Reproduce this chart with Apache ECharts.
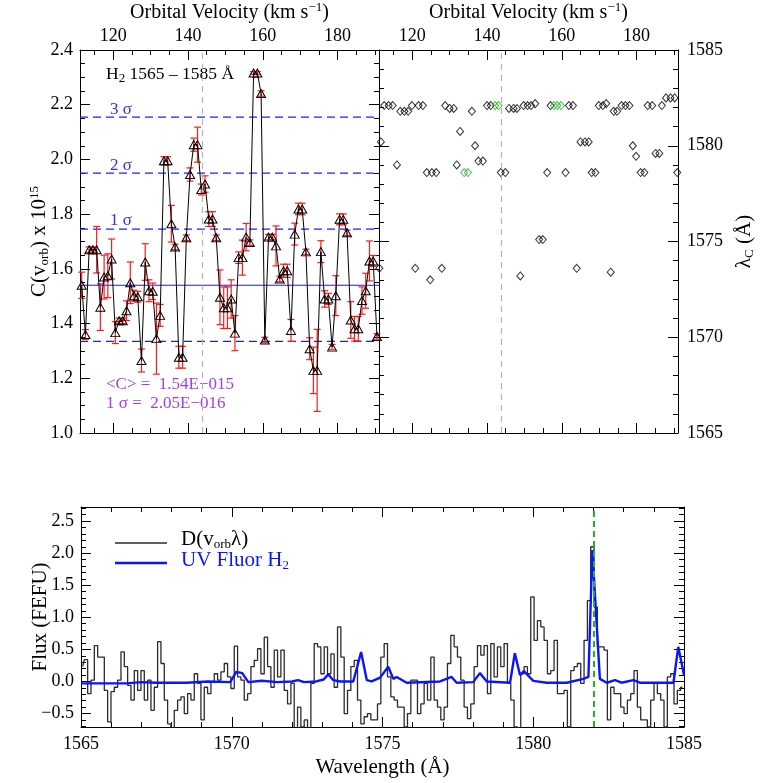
<!DOCTYPE html>
<html>
<head>
<meta charset="utf-8">
<script src="https://cdn.jsdelivr.net/npm/echarts@6/dist/echarts.min.js"></script>
<style>
  html, body { margin: 0; padding: 0; background: #fff; }
  #chart { width: 770px; height: 783px; }
</style>
</head>
<body>
<div id="chart"></div>
<script>
// ---- data ----
// cross-correlation amplitude C(v_orb) (x 1e15), one point per 1 km/s
const velStart = 111.55;
const velStep = 1.0;
const corrValues = [
  1.54, 1.36, 1.67, 1.67, 1.67, 1.46, 1.57, 1.575, 1.636, 1.367,
  1.41, 1.41, 1.447, 1.549, 1.502, 1.498, 1.265, 1.625, 1.52, 1.518,
  1.345, 1.43, 1.995, 1.995, 1.765, 1.68, 1.277, 1.277, 1.714, 1.945,
  2.054, 2.054, 1.89, 1.91, 1.782, 1.782, 1.714, 1.496, 1.458, 1.458,
  1.49, 1.365, 1.641, 1.641, 1.716, 1.696, 2.316, 2.316, 2.241, 1.34,
  1.716, 1.716, 1.684, 1.563, 1.593, 1.593, 1.375, 1.727, 1.819, 1.819,
  1.662, 1.308, 1.229, 1.229, 1.663, 1.49, 1.49, 1.314, 1.502, 1.781,
  1.781, 1.732, 1.413, 1.381, 1.381, 1.484, 1.52, 1.629, 1.629, 1.353
];
const corrErrors = [
  0.048, 0.018, 0.01, 0.01, 0.085, 0.085, 0.08, 0.08, 0.073, 0.04,
  0.01, 0.01, 0.036, 0.076, 0.02, 0.02, 0.042, 0.067, 0.04, 0.03,
  0.13, 0.04, 0.015, 0.015, 0.067, 0.01, 0.04, 0.04, 0.01, 0.024,
  0.024, 0.064, 0.02, 0.03, 0.027, 0.027, 0.01, 0.1, 0.076, 0.076,
  0.07, 0.064, 0.021, 0.064, 0.05, 0.01, 0.005, 0.005, 0.01, 0.01,
  0.01, 0.01, 0.073, 0.01, 0.024, 0.024, 0.04, 0.04, 0.021, 0.021,
  0.01, 0.04, 0.085, 0.15, 0.04, 0.03, 0.02, 0.01, 0.073, 0.02,
  0.02, 0.01, 0.067, 0.045, 0.045, 0.05, 0.064, 0.073, 0.02, 0.01
];
const meanC = 1.54;
const sigmaC = 0.205;
const vMarker = 143.9;

// peak wavelength lambda_C per velocity [v, lambda]
const lambdaBlack = [
  [111.2,1573.6],[111.6,1580.2],[112.5,1582.1],[113.7,1582.1],[114.75,1582.1],[115.9,1579.0],
  [116.8,1581.8],[117.9,1581.8],[118.9,1581.8],[119.9,1582.1],[120.8,1573.6],[121.7,1582.1],
  [122.85,1582.1],[123.9,1578.6],[124.8,1573.0],[125.25,1578.6],[126.4,1578.6],[127.9,1573.6],
  [128.8,1582.1],[130.0,1581.95],[131.1,1581.95],[131.9,1579.0],[132.8,1580.75],[135.95,1581.8],
  [136.8,1580.0],[137.7,1579.2],[138.9,1579.2],[140.0,1582.1],[141.0,1582.1],[143.7,1578.6],
  [144.9,1578.6],[145.9,1581.95],[147.1,1581.95],[148.0,1581.95],[148.9,1573.2],[149.8,1582.1],
  [150.85,1582.1],[151.8,1582.1],[152.9,1582.2],[153.95,1575.1],[154.9,1575.1],[156.1,1578.6],
  [157.0,1582.1],[161.0,1578.6],[161.9,1582.1],[163.0,1582.1],[164.0,1573.6],[165.0,1580.2],
  [166.2,1580.2],[167.2,1580.2],[168.0,1578.6],[169.0,1578.6],[169.9,1582.1],[171.0,1582.1],
  [171.9,1582.2],[173.1,1573.4],[173.9,1581.8],[174.8,1581.8],[176.0,1582.1],[177.05,1582.1],
  [178.1,1582.1],[179.0,1580.0],[179.9,1579.45],[181.1,1578.6],[182.1,1578.6],[183.0,1582.1],
  [184.2,1582.1],[185.1,1579.6],[186.1,1579.6],[186.8,1582.1],[187.9,1582.5],[189.1,1582.5],
  [190.2,1582.5],[190.9,1578.6]
];
const lambdaGreen = [
  [133.9,1578.6],[134.9,1578.6],[142.2,1582.1],[143.1,1582.1],[157.9,1582.1],[158.8,1582.1],[159.8,1582.1]
];

// D(v_orb, lambda) spectrum, binned
const waveStart = 1565.055;
const waveStep = 0.1105;
const fluxD = [
  0.23, 0.34, -0.19, 0.02, 0.56, 0.38, 0.38, -0.14, -0.63, -0.16,
  -0.09, 0.02, 0.46, 0.23, -0.06, -0.29, 0.17, -0.14, 0.17, -0.29,
  0.02, -0.45, -0.09, 0.62, 0.28, -0.29, -0.66, -0.76, -0.45, -0.29,
  -0.24, -0.5, -0.19, -0.29, 0.12, -0.03, -0.6, -0.09, -0.19, -0.01,
  0.12, 0.02, 0.15, 0.28, 0.07, -0.11, 0.55, 0.07, 0.02, -0.29,
  -0.19, 0.23, 0.33, 0.51, 0.12, 0.69, 0.23, -0.09, 0.49, 0.07,
  0.49, -0.14, -0.35, -0.03, -0.76, -0.4, -0.71, -0.6, -0.76, -0.03,
  0.59, 0.54, 0.12, 0.54, 0.12, 0.43, -0.09, 0.85, 0.38, -0.5,
  -0.14, 0.23, 0.33, -0.29, -0.66, -0.55, -0.5, -0.6, -0.6, -0.35,
  0.38, 0.59, 0.07, -0.24, -0.29, -0.4, -0.4, -0.71, -0.5, 0.02,
  0.02, -0.5, -0.35, -0.03, -0.29, 0.38, -0.29, -0.4, -0.6, -0.4,
  0.28, 0.72, 0.54, 0.38, 0.02, -0.4, -0.58, -0.35, 0.23, 0.56,
  0.41, 0.56, -0.19, 0.59, 0.07, 0.54, 0.23, 0.59, -0.03, -0.29,
  -0.71, -0.76, 0.12, 0.23, 0.12, 1.32, 0.64, 0.95, 0.85, 0.64,
  0.12, 0.17, 0.64, -0.19, -0.19, -0.14, -0.71, 0.17, 0.23, 0.28,
  -0.03, 0.64, 1.26, 2.1, 1.16, 0.54, 0.54, 0.49, -0.6, -0.09,
  -0.19, -0.19, -0.4, -0.5, -0.29, -0.19, 0.17, -0.4, -0.6, -0.6,
  -0.71, -0.29, -0.03, -0.19, -0.29, -0.71, 0.07, 0.12, -0.35, -0.14, -0.09
];
// UV fluorescent H2 model [lambda, flux]
const fluorH2 = [
  [1565.0,-0.03],[1566.5,-0.03],[1567.0,-0.01],[1567.5,-0.02],[1568.5,-0.02],[1569.2,0.0],
  [1569.95,-0.01],[1570.15,0.15],[1570.35,0.13],[1570.55,-0.01],[1571.0,0.01],[1571.5,-0.01],
  [1572.0,0.0],[1572.2,0.02],[1572.4,-0.01],[1572.8,0.0],[1573.05,0.03],[1573.2,0.11],
  [1573.37,0.02],[1573.6,0.0],[1574.03,0.0],[1574.29,0.46],[1574.48,0.02],[1574.64,0.0],
  [1574.92,0.06],[1575.19,0.23],[1575.36,0.04],[1575.47,0.07],[1575.8,-0.02],[1576.91,0.0],
  [1577.29,0.07],[1577.46,-0.02],[1578.01,-0.01],[1578.23,0.13],[1578.46,0.0],[1579.23,-0.02],
  [1579.39,0.44],[1579.56,0.1],[1579.69,0.16],[1580.0,0.01],[1580.45,-0.02],[1581.11,-0.02],
  [1581.66,0.04],[1581.83,0.07],[1581.96,2.05],[1582.21,0.04],[1582.44,-0.02],[1582.71,0.02],
  [1582.93,-0.02],[1583.32,0.02],[1583.54,-0.02],[1584.65,-0.02],[1584.81,0.54],[1585.0,0.1]
];
const lineCenter = 1582.0;

// ---- build ----
const serif = 'Liberation Serif';
const VEL_MIN = 111.1, VEL_MAX = 191.1;
const FLUX_MIN = -0.71, FLUX_MAX = 2.72;

const rich = {
  sub: { fontSize: 13, fontFamily: serif, padding: [10, 0, 0, 0], verticalAlign: 'bottom' },
  sup: { fontSize: 13, fontFamily: serif, padding: [0, 0, 10, 0], verticalAlign: 'top' }
};
const nameStyle = { color: '#000', fontFamily: serif, fontSize: 21, rich: rich };
const labelStyle = { show: true, color: '#000', fontFamily: serif, fontSize: 18 };

const velocities = corrValues.map((_, i) => +(velStart + i * velStep).toFixed(2));
const corrData = corrValues.map((c, i) => [velocities[i], c]);
const errData = corrValues.map((c, i) => [velocities[i], c - corrErrors[i], c + corrErrors[i]]);
const specData = fluxD.map((f, i) => [+(waveStart + i * waveStep).toFixed(4), f]);

function frameAxis(gridIndex, position, min, max, minorSplit, extra) {
  return Object.assign({
    type: 'value', gridIndex: gridIndex, position: position, min: min, max: max,
    axisLine: { show: true, onZero: false, lineStyle: { color: '#000', width: 1 } },
    axisTick: { show: true, inside: true, length: 10, lineStyle: { color: '#000', width: 1 } },
    minorTick: { show: true, splitNumber: minorSplit, length: 5, lineStyle: { color: '#000', width: 1 } },
    splitLine: { show: false },
    minorSplitLine: { show: false },
    axisLabel: { show: false },
    nameMoveOverlap: false
  }, extra || {});
}

const velLabelAxis = {
  axisLabel: Object.assign({}, labelStyle, { margin: 5, showMinLabel: false, showMaxLabel: false }),
  name: 'Orbital Velocity (km s{sup|−1})', nameLocation: 'middle', nameGap: 26,
  nameTextStyle: Object.assign({}, nameStyle, { fontSize: 20 })
};
const plainNum = v => String(v);

const xAxes = [
  frameAxis(0, 'top', VEL_MIN, VEL_MAX, 4, velLabelAxis),
  frameAxis(0, 'bottom', VEL_MIN, VEL_MAX, 4),
  frameAxis(1, 'top', VEL_MIN, VEL_MAX, 4, velLabelAxis),
  frameAxis(1, 'bottom', VEL_MIN, VEL_MAX, 4),
  frameAxis(2, 'bottom', 1565, 1585, 5, {
    interval: 5,
    axisLabel: Object.assign({}, labelStyle, { margin: 8, formatter: plainNum }),
    name: 'Wavelength (Å)', nameLocation: 'middle', nameGap: 30, nameTextStyle: nameStyle
  }),
  frameAxis(2, 'top', 1565, 1585, 5, { interval: 5 })
];

const yAxes = [
  frameAxis(0, 'left', 1.0, 2.4, 4, {
    interval: 0.2,
    axisLabel: Object.assign({}, labelStyle, { margin: 7, formatter: v => v.toFixed(1) }),
    name: 'C(v{sub|orb}) x 10{sup|15}', nameLocation: 'middle', nameGap: 29, nameTextStyle: nameStyle
  }),
  frameAxis(0, 'right', 1.0, 2.4, 4, { interval: 0.2 }),
  frameAxis(1, 'right', 1565, 1585, 5, {
    interval: 5,
    axisLabel: Object.assign({}, labelStyle, { margin: 9, formatter: plainNum }),
    name: 'λ{sub|C} (Å)', nameLocation: 'middle', nameGap: 55, nameTextStyle: nameStyle
  }),
  frameAxis(1, 'left', 1565, 1585, 5, { interval: 5 }),
  frameAxis(2, 'left', FLUX_MIN, FLUX_MAX, 5, {
    axisLabel: Object.assign({}, labelStyle, {
      margin: 7, showMinLabel: false, showMaxLabel: false,
      formatter: v => (v < 0 ? '−' + Math.abs(v).toFixed(1) : v.toFixed(1))
    }),
    name: 'Flux (FEFU)', nameLocation: 'middle', nameGap: 30, nameTextStyle: nameStyle
  }),
  frameAxis(2, 'right', FLUX_MIN, FLUX_MAX, 5)
];

// horizontal mean / sigma levels drawn as two-point line series across the panel
const sigmaLevels = [
  { k: 0, color: '#1a1aff', dash: 'solid' },
  { k: -1, color: '#2424b0', dash: [8, 5] },
  { k: 1, color: '#1e1eff', dash: [8, 5] },
  { k: 2, color: '#1e1eff', dash: [8, 5] },
  { k: 3, color: '#1e1eff', dash: [8, 5] }
];
const levelSeries = sigmaLevels.map(l => {
  const y = +(meanC + l.k * sigmaC).toFixed(3);
  return {
    type: 'line', xAxisIndex: 0, yAxisIndex: 0, silent: true, z: 1,
    data: [[VEL_MIN, y], [VEL_MAX, y]], symbol: 'none',
    lineStyle: { color: l.color, type: l.dash, width: 1.2 }
  };
});

function textItem(x, y, text, color, size) {
  return {
    type: 'text', left: x, top: y, silent: true,
    style: { text: text, fill: color, fontFamily: serif, fontSize: size, rich: rich }
  };
}
const purple = '#a23cf2';
const sigBlue = '#3232e6';
const fluorBlue = '#0a14ff';

const option = {
  animation: false,
  backgroundColor: '#fff',
  grid: [
    { left: 80, top: 48, width: 299, height: 385 },
    { left: 379, top: 48, width: 299, height: 385 },
    { left: 81, top: 507, width: 603, height: 220 }
  ],
  xAxis: xAxes,
  yAxis: yAxes,
  graphic: [
    textItem(106, 65, 'H{sub|2} 1565 – 1585 Å', '#000', 17.5),
    textItem(110, 101, '3 σ', sigBlue, 17),
    textItem(110, 157, '2 σ', sigBlue, 17),
    textItem(110, 212, '1 σ', sigBlue, 17),
    textItem(106, 376, '<C> =  1.54E−015', purple, 17),
    textItem(106, 395, '1 σ =  2.05E−016', purple, 17),
    // legend of the lower panel
    { type: 'line', silent: true, shape: { x1: 115, y1: 543, x2: 167, y2: 543 }, style: { stroke: '#2b2b2b', lineWidth: 1.3 } },
    { type: 'line', silent: true, shape: { x1: 115, y1: 563, x2: 167, y2: 563 }, style: { stroke: fluorBlue, lineWidth: 2.4 } },
    textItem(181, 529, 'D(v{sub|orb}λ)', '#000', 21),
    textItem(181, 550, 'UV Fluor H{sub|2}', fluorBlue, 21)
  ],
  series: levelSeries.concat([
    {
      type: 'custom', xAxisIndex: 0, yAxisIndex: 0, data: errData, z: 2, silent: true,
      renderItem: function (params, api) {
        const lo = api.coord([api.value(0), api.value(1)]);
        const hi = api.coord([api.value(0), api.value(2)]);
        const hw = 3.5;
        const st = { stroke: '#ff1a1a', lineWidth: 1.2 };
        return {
          type: 'group', children: [
            { type: 'line', shape: { x1: lo[0], y1: lo[1], x2: hi[0], y2: hi[1] }, style: st },
            { type: 'line', shape: { x1: lo[0] - hw, y1: lo[1], x2: lo[0] + hw, y2: lo[1] }, style: st },
            { type: 'line', shape: { x1: hi[0] - hw, y1: hi[1], x2: hi[0] + hw, y2: hi[1] }, style: st }
          ]
        };
      }
    },
    {
      name: 'C', type: 'line', xAxisIndex: 0, yAxisIndex: 0, data: corrData, z: 3, silent: true,
      symbol: 'triangle', symbolSize: [9, 8], showAllSymbol: true,
      itemStyle: { color: 'rgba(0,0,0,0)', borderColor: '#000', borderWidth: 1 },
      lineStyle: { color: '#000', width: 1 },
      markLine: {
        silent: true, symbol: ['none', 'none'], label: { show: false },
        lineStyle: { color: '#b4b4b4', type: [6, 5], width: 1.2 },
        data: [{ xAxis: vMarker }]
      }
    },
    {
      type: 'scatter', xAxisIndex: 2, yAxisIndex: 2, data: lambdaBlack, silent: true,
      symbol: 'diamond', symbolSize: [7, 8],
      itemStyle: { color: 'rgba(0,0,0,0)', borderColor: '#000', borderWidth: 1 },
      markLine: {
        silent: true, symbol: ['none', 'none'], label: { show: false },
        lineStyle: { color: '#b4b4b4', type: [6, 5], width: 1.2 },
        data: [{ xAxis: vMarker }]
      }
    },
    {
      type: 'scatter', xAxisIndex: 2, yAxisIndex: 2, data: lambdaGreen, silent: true,
      symbol: 'diamond', symbolSize: [7, 8],
      itemStyle: { color: 'rgba(0,0,0,0)', borderColor: '#22b022', borderWidth: 1 }
    },
    {
      name: 'D', type: 'line', step: 'middle', xAxisIndex: 4, yAxisIndex: 4, data: specData,
      showSymbol: false, symbol: 'none', silent: true, z: 2,
      lineStyle: { color: '#2b2b2b', width: 1.3 },
      markLine: {
        silent: true, symbol: ['none', 'none'], label: { show: false },
        lineStyle: { color: '#1fb51f', type: [6, 4], width: 2 },
        data: [{ xAxis: lineCenter }]
      }
    },
    {
      name: 'UV', type: 'line', xAxisIndex: 4, yAxisIndex: 4, data: fluorH2,
      showSymbol: false, symbol: 'none', silent: true, z: 3,
      lineStyle: { color: fluorBlue, width: 2.4 }
    }
  ])
};

const chart = echarts.init(document.getElementById('chart'));
chart.setOption(option);
window.addEventListener('resize', () => chart.resize());
</script>
</body>
</html>
